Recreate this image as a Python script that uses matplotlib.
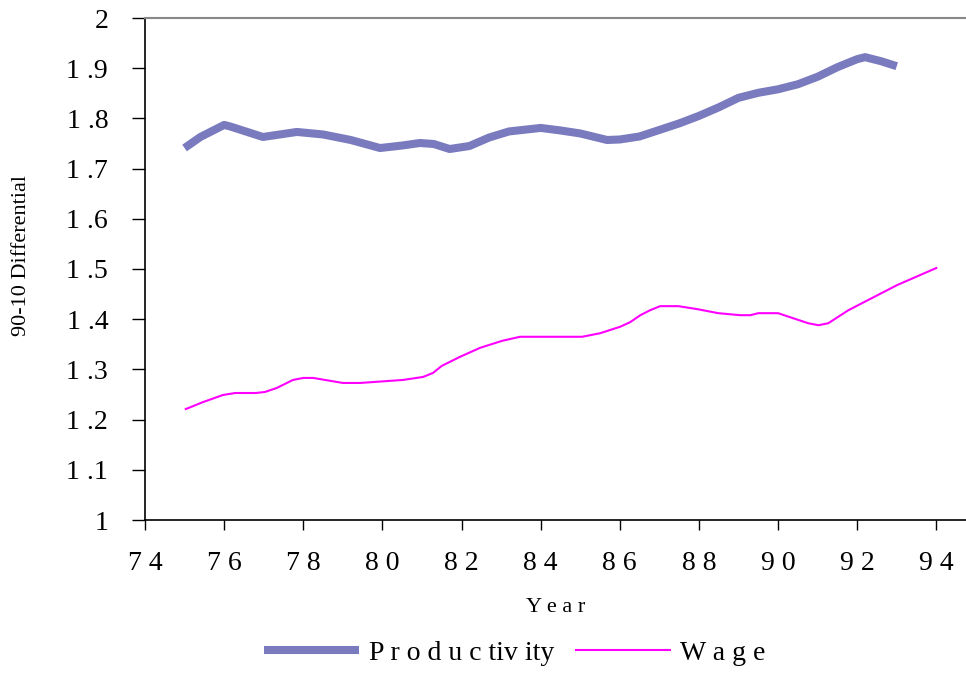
"""90-10 differential of productivity and wage, 1975-1994."""

import matplotlib
matplotlib.use("Agg")
import matplotlib.pyplot as plt

# productivity series (year, value)
prod_years = [75.0, 75.4, 75.85, 76.0, 76.15, 76.98, 77.84, 78.5, 79.2, 79.94,
              80.5, 80.95, 81.3, 81.7, 82.2, 82.7, 83.2, 84.0, 84.5, 85.0,
              85.68, 86.0, 86.5, 87.0, 87.5, 88.0, 88.5, 89.0, 89.5, 90.0,
              90.5, 91.0, 91.5, 92.0, 92.2, 92.6, 93.0]
prod_vals = [1.741, 1.763, 1.781, 1.787, 1.784, 1.763, 1.773, 1.768, 1.757, 1.741,
             1.746, 1.751, 1.749, 1.739, 1.745, 1.762, 1.774, 1.781, 1.776, 1.770,
             1.757, 1.758, 1.764, 1.777, 1.790, 1.805, 1.822, 1.841, 1.851, 1.858,
             1.868, 1.883, 1.902, 1.918, 1.922, 1.914, 1.904]

# wage series (year, value)
wage_years = [75.03, 75.47, 75.97, 76.28, 76.8, 77.03, 77.33, 77.74, 78.0, 78.25,
              79.0, 79.44, 80.52, 81.03, 81.28, 81.5, 81.96, 82.47, 83.03, 83.48,
              84.24, 85.05, 85.5, 86.01, 86.26, 86.52, 86.77, 87.02, 87.48, 87.96,
              88.49, 89.04, 89.3, 89.5, 90.0, 90.76, 91.02, 91.27, 91.78, 93.01, 94.0]
wage_vals = [1.221, 1.235, 1.249, 1.253, 1.253, 1.255, 1.263, 1.279, 1.283, 1.283,
             1.273, 1.273, 1.279, 1.285, 1.293, 1.307, 1.325, 1.343, 1.357, 1.365,
             1.365, 1.365, 1.372, 1.385, 1.394, 1.408, 1.418, 1.426, 1.426, 1.420,
             1.412, 1.408, 1.408, 1.412, 1.412, 1.392, 1.388, 1.392, 1.418, 1.468, 1.502]

x_ticks = [74, 76, 78, 80, 82, 84, 86, 88, 90, 92, 94]
x_tick_labels = ["7 4", "7 6", "7 8", "8 0", "8 2", "8 4", "8 6", "8 8", "9 0", "9 2", "9 4"]
y_ticks = [1.0, 1.1, 1.2, 1.3, 1.4, 1.5, 1.6, 1.7, 1.8, 1.9, 2.0]
y_tick_labels = ["1", "1 .1", "1 .2", "1 .3", "1 .4", "1 .5", "1 .6", "1 .7", "1 .8", "1 .9", "2"]

plt.rcParams['font.family'] = ['Liberation Serif', 'DejaVu Serif']

fig = plt.figure(figsize=(9.66, 6.73), dpi=100)
ax = fig.add_axes([145 / 966, 1 - 520 / 673, 1 - 145 / 966, (520 - 18) / 673])

ax.plot(prod_years, prod_vals, color='#7a7abf', lw=5.8, solid_capstyle='butt',
        label='P r o d u c tiv ity')
ax.plot(wage_years, wage_vals, color='#ff00ff', lw=1.5, label='W a g e')

ax.set_xlim(74, 94.75)
ax.set_ylim(1, 2)
ax.set_xticks(x_ticks)
ax.set_xticklabels(x_tick_labels)
ax.set_yticks(y_ticks)
ax.set_yticklabels(y_tick_labels)
ax.tick_params(axis='both', direction='out', width=1, labelsize=20)
ax.tick_params(axis='y', length=9.5, pad=17)
ax.tick_params(axis='x', length=7, pad=15)

ax.spines['right'].set_visible(False)
ax.spines['top'].set_color('#888888')
ax.spines['top'].set_linewidth(1.5)
ax.spines['left'].set_linewidth(1.2)
ax.spines['bottom'].set_linewidth(1.2)

ax.set_xlabel('Y e a r', fontsize=16, labelpad=16)
fig.text(22 / 966, 1 - 255 / 673, '90-10 Differential', rotation=90,
         fontsize=16, ha='center', va='center')

fig.legend(loc='center', bbox_to_anchor=(515 / 966, 1 - 653 / 673), ncol=2,
           frameon=False, fontsize=20, handlelength=3.4, handletextpad=0.35,
           columnspacing=0.8)

fig.savefig('out.png', dpi=100)
